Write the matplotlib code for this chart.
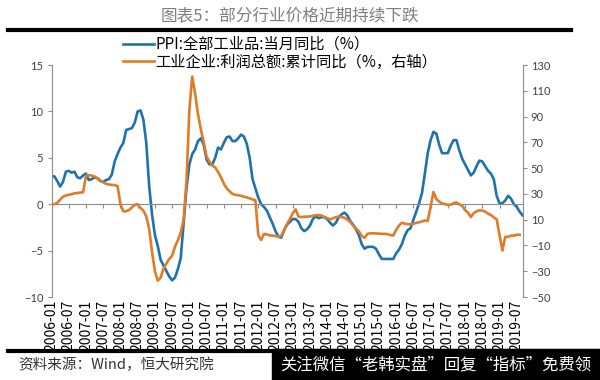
import matplotlib
matplotlib.use("Agg")
import matplotlib.pyplot as plt
import numpy as np
from matplotlib.lines import Line2D
from matplotlib.patches import Rectangle

plt.rcParams["font.family"] = ["Noto Sans CJK SC", "DejaVu Sans"]

# PPI: all industrial products, YoY (%), monthly 2006-01 .. 2019-09 (left axis)
ppi = [
    3.0, 3.0, 2.5, 1.9, 2.4, 3.5, 3.6, 3.4, 3.5, 2.9, 2.8, 3.1,
    3.3, 2.6, 2.7, 2.9, 2.8, 2.5, 2.4, 2.6, 2.7, 3.2, 4.6, 5.4,
    6.1, 6.6, 8.0, 8.1, 8.2, 8.8, 10.0, 10.1, 9.1, 6.6, 2.0, -1.1,
    -3.3, -4.5, -6.0, -6.6, -7.2, -7.8, -8.2, -7.9, -7.0, -5.8, -2.1, 1.7,
    4.3, 5.4, 5.9, 6.8, 7.1, 6.4, 4.8, 4.3, 4.3, 5.0, 6.1, 5.9,
    6.6, 7.2, 7.3, 6.8, 6.8, 7.1, 7.5, 7.3, 6.5, 5.0, 2.7, 1.7,
    0.7, 0.0, -0.3, -0.7, -1.4, -2.1, -2.9, -3.5, -3.6, -2.8, -2.2, -1.9,
    -1.6, -1.6, -1.9, -2.6, -2.9, -2.7, -2.3, -1.6, -1.3, -1.5, -1.4, -1.4,
    -1.6, -2.0, -2.3, -2.0, -1.4, -1.1, -0.9, -1.2, -1.8, -2.2, -2.7, -3.3,
    -4.3, -4.8, -4.6, -4.6, -4.6, -4.8, -5.4, -5.9, -5.9, -5.9, -5.9, -5.9,
    -5.3, -4.9, -4.3, -3.4, -2.8, -2.6, -1.7, -0.8, 0.1, 1.2, 3.3, 5.5,
    6.9, 7.8, 7.6, 6.4, 5.5, 5.5, 5.5, 6.3, 6.9, 6.9, 5.8, 4.9,
    4.3, 3.7, 3.1, 3.4, 4.1, 4.7, 4.6, 4.1, 3.6, 3.3, 2.7, 0.9,
    0.1, 0.1, 0.4, 0.9, 0.6, 0.0, -0.3, -0.8, -1.2,
]

# industrial profits, cumulative YoY (%), monthly 2006-01 .. 2019-08 (right axis)
profit = [
    22.0, 22.0, 23.0, 25.5, 27.8, 28.8, 29.3, 29.8, 30.4, 30.7, 31.0, 31.2,
    44.0, 44.6, 44.2, 43.5, 42.0, 40.5, 39.0, 37.8, 37.3, 37.0, 36.8, 36.1,
    22.0, 16.5, 16.5, 17.5, 19.5, 21.5, 22.0, 19.0, 17.0, 12.5, 3.0, -15.0,
    -30.0, -37.3, -35.0, -28.0, -24.0, -20.5, -18.0, -11.0, -6.0, 0.0, 10.0, 40.0,
    95.0, 121.0, 108.0, 92.0, 80.0, 70.0, 59.0, 55.0, 52.0, 50.5, 47.0, 43.0,
    38.0, 34.3, 32.0, 30.0, 29.3, 29.0, 28.5, 27.8, 27.3, 26.5, 25.7, 25.0,
    -2.0, -5.8, -1.0, -1.5, -2.2, -2.4, -2.7, -3.0, -2.5, 2.0, 6.5, 10.5,
    15.0, 18.0, 12.3, 12.0, 12.3, 12.3, 12.5, 13.0, 13.5, 13.6, 13.2, 12.2,
    11.2, 10.3, 11.0, 12.0, 12.3, 12.0, 11.5, 10.0, 8.2, 5.5, 3.3, 1.0,
    -2.5, -4.2, -1.0, -0.6, -0.6, -0.7, -0.8, -1.0, -1.0, -1.2, -2.0, -2.3,
    2.0, 5.5, 7.6, 7.0, 6.5, 6.4, 6.8, 7.5, 8.0, 8.6, 9.4, 9.0,
    20.0, 31.5, 26.0, 24.0, 22.7, 22.0, 21.5, 21.6, 22.8, 23.3, 21.9, 20.6,
    17.5, 15.5, 12.0, 15.0, 16.5, 17.2, 17.1, 16.2, 14.7, 13.6, 11.8, 10.3,
    -2.0, -14.0, -3.3, -3.4, -2.3, -2.4, -1.7, -1.7,
]

tick_labels = [
    "2006-01", "2006-07", "2007-01", "2007-07", "2008-01", "2008-07",
    "2009-01", "2009-07", "2010-01", "2010-07", "2011-01", "2011-07",
    "2012-01", "2012-07", "2013-01", "2013-07", "2014-01", "2014-07",
    "2015-01", "2015-07", "2016-01", "2016-07", "2017-01", "2017-07",
    "2018-01", "2018-07", "2019-01", "2019-07",
]

left_ticks = [-10, -5, 0, 5, 10, 15]
right_ticks = [-50, -30, -10, 10, 30, 50, 70, 90, 110, 130]

BLUE = "#1f72b0"
ORANGE = "#e07b27"
GRAY = "#8c8c8c"
LABEL = "#404040"

fig = plt.figure(figsize=(6, 3.8), dpi=100)
ax = fig.add_axes([51.5 / 600, 1 - 297 / 380, 471 / 600, 232 / 380])
ax2 = ax.twinx()

l1, = ax.plot(np.arange(len(ppi)), ppi, color=BLUE, lw=1.9)
l2, = ax2.plot(np.arange(len(profit)), profit, color=ORANGE, lw=1.9)

ax.set_xlim(0, len(ppi) - 1)
ax.set_ylim(-10, 15)
ax2.set_ylim(-50, 130)
ax.set_yticks(left_ticks)
ax2.set_yticks(right_ticks)

ax.tick_params(axis="x", length=3, color=GRAY, pad=66, labelrotation=90)
ax.tick_params(axis="y", length=3, color=GRAY, labelsize=8, labelcolor=LABEL, pad=3)
ax2.tick_params(axis="y", length=3, color=GRAY, labelsize=8, labelcolor=LABEL, pad=3)
ax.set_xticks(np.arange(0, len(ppi), 6))
ax.set_xticklabels(tick_labels, rotation=90, fontsize=8.5,
                   family="Liberation Mono", color=LABEL, va="top", ha="center")
for t in ax.get_yticklabels() + ax2.get_yticklabels():
    t.set_family("Lato")

ax.spines["bottom"].set_position(("data", 0))
ax.spines["bottom"].set_color(GRAY)
ax.spines["left"].set_color(GRAY)
ax.spines["top"].set_visible(False)
ax.spines["right"].set_visible(False)
ax2.spines["right"].set_color(GRAY)
for s in ["top", "bottom", "left"]:
    ax2.spines[s].set_visible(False)

fig.legend([l1, l2], ["PPI:全部工业品:当月同比（%）", "工业企业:利润总额:累计同比（%，右轴）"],
           loc="upper left", bbox_to_anchor=(123 / 600, 1 - 36 / 380),
           frameon=False, fontsize=11, handlelength=2.0, handletextpad=0.1,
           labelspacing=0.05, borderpad=0, borderaxespad=0)

# header and footer
fig.text(290 / 600, 1 - 17 / 380, "图表5：部分行业价格近期持续下跌",
         ha="center", va="center", fontsize=12, color="#808080")
fig.add_artist(Line2D([8 / 600, 571 / 600], [1 - 30 / 380] * 2, lw=3, color="black"))
fig.add_artist(Line2D([8 / 600, 1.0], [1 - 351 / 380] * 2, lw=3, color="black"))
fig.text(18 / 600, 1 - 365 / 380, "资料来源：Wind，恒大研究院",
         va="center", fontsize=10.5, color="#333333")
fig.add_artist(Rectangle((272 / 600, 0), 328 / 600, 31 / 380,
                         transform=fig.transFigure, color="black"))
fig.text(280 / 600, 1 - 365 / 380, "关注微信“老韩实盘”回复“指标”免费领",
         va="center", fontsize=11.8, color="white")

fig.savefig("out.png", dpi=100)
